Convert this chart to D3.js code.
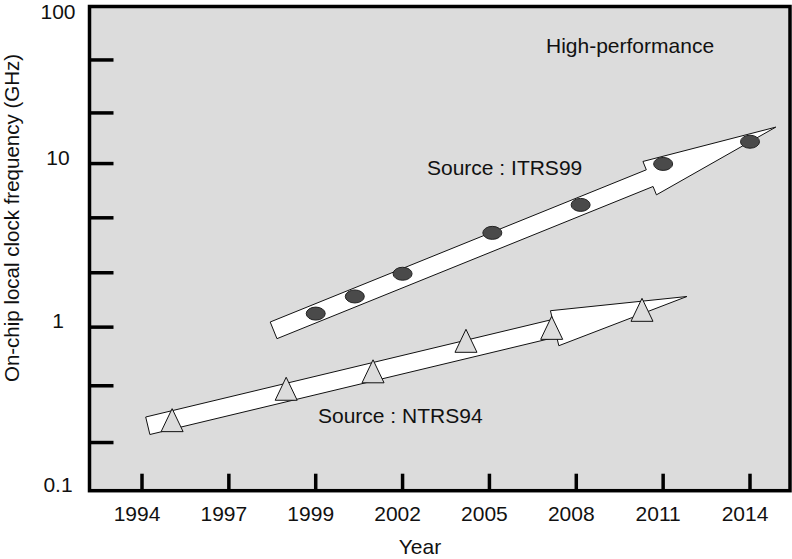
<!DOCTYPE html>
<html>
<head>
<meta charset="utf-8">
<script src="https://cdn.jsdelivr.net/npm/d3@7"></script>
<style>
  html, body { margin: 0; padding: 0; background: #fff; }
  svg text { font-family: "Liberation Sans", Arial, Helvetica, sans-serif; fill: #111; }
</style>
</head>
<body>
<div id="chart"></div>
<script>
// tick labels on the x axis (evenly spaced in the original, though the years are not)
const yearTicks = [1994, 1997, 1999, 2002, 2005, 2008, 2011, 2014];
const yMajorTicks = [0.1, 1, 10, 100];
const yMinorTicks = [0.197, 0.438, 2.15, 4.66, 20.4, 43];

// ITRS99 roadmap (filled ellipses)
const itrsYears = [1999, 2000.35, 2002, 2005.1, 2008.15, 2011, 2014];
const itrsGHz = [1.21, 1.54, 2.12, 3.77, 5.59, 9.95, 13.6];
const itrsArrow = [[1998.03, 0.956], [2014.89, 16.7]];

// NTRS94 roadmap (open triangles)
const ntrsYears = [1995.04, 1998.32, 2000.98, 2004.19, 2007.15, 2010.27];
const ntrsGHz = [0.27, 0.42, 0.537, 0.825, 0.99, 1.276];
const ntrsArrow = [[1994.2, 0.2495], [2011.82, 1.539]];

const W = 792, H = 559;
const plotL = 89.5, plotR = 790, plotT = 6.5, plotB = 490.7;
const bg = '#dcdcdc';

const svg = d3.select('#chart').append('svg').attr('width', W).attr('height', H);

// x: labels evenly spaced, years mapped piecewise onto them
const xPoint = d3.scalePoint().domain(yearTicks.map(String)).range([142, 750]);
const x = d3.scaleLinear().domain(yearTicks).range(yearTicks.map(t => xPoint(String(t))));
const y = d3.scaleLog().domain([0.1, 100]).range([plotB, 0]);

svg.append('rect').attr('x', plotL).attr('y', plotT)
  .attr('width', plotR - plotL).attr('height', plotB - plotT).attr('fill', bg);

// block arrow in pixel space from two data points
function arrowPath(a) {
  const x0 = x(a[0][0]), y0 = y(a[0][1]), x1 = x(a[1][0]), y1 = y(a[1][1]);
  const L = Math.hypot(x1 - x0, y1 - y0);
  const ux = (x1 - x0) / L, uy = (y1 - y0) / L;
  const nx = -uy, ny = ux;
  const sw = 9, hw = 18, hl = 136;
  const p = (s, o) => [x0 + ux * s + nx * o, y0 + uy * s + ny * o];
  const pts = [p(0, sw), p(L - hl, sw), p(L - hl, hw), p(L, 0), p(L - hl, -hw), p(L - hl, -sw), p(0, -sw)];
  return 'M' + pts.map(q => q.join(',')).join('L') + 'Z';
}

[itrsArrow, ntrsArrow].forEach(a => {
  svg.append('path').attr('d', arrowPath(a))
    .attr('fill', '#fff').attr('stroke', '#111').attr('stroke-width', 1);
});

svg.append('g').selectAll('ellipse').data(itrsYears).enter().append('ellipse')
  .attr('cx', d => x(d)).attr('cy', (d, i) => y(itrsGHz[i]))
  .attr('rx', 9.5).attr('ry', 6.5)
  .attr('fill', '#4a4a4a').attr('stroke', '#222').attr('stroke-width', 1);

svg.append('g').selectAll('path').data(ntrsYears).enter().append('path')
  .attr('transform', (d, i) => `translate(${x(d)},${y(ntrsGHz[i])})`)
  .attr('d', 'M0,-11.5L11,11.5L-11,11.5Z')
  .attr('fill', bg).attr('stroke', '#111').attr('stroke-width', 1);

// annotations
svg.append('text').attr('x', 546).attr('y', 53).attr('font-size', 21).text('High-performance');
svg.append('text').attr('x', 427).attr('y', 175).attr('font-size', 21).text('Source : ITRS99');
svg.append('text').attr('x', 318).attr('y', 423).attr('font-size', 21).text('Source : NTRS94');

// ticks (drawn inward)
svg.append('g').selectAll('line').data(yMajorTicks.slice(1, 3).concat(yMinorTicks)).enter().append('line')
  .attr('x1', plotL).attr('x2', plotL + 24).attr('y1', d => y(d)).attr('y2', d => y(d))
  .attr('stroke', '#000').attr('stroke-width', 3.5);

svg.append('g').selectAll('line').data(yearTicks).enter().append('line')
  .attr('x1', d => x(d)).attr('x2', d => x(d)).attr('y1', plotB).attr('y2', plotB - 17)
  .attr('stroke', '#000').attr('stroke-width', 3.5);

// frame
svg.append('rect').attr('x', plotL).attr('y', plotT)
  .attr('width', plotR - plotL).attr('height', plotB - plotT)
  .attr('fill', 'none').attr('stroke', '#000').attr('stroke-width', 3.5);

// tick labels
svg.append('g').selectAll('text').data(yMajorTicks).enter().append('text')
  .attr('x', 58).attr('y', d => Math.max(19, y(d) + 1))
  .attr('text-anchor', 'middle').attr('font-size', 21)
  .text(d => String(d));

svg.append('g').selectAll('text').data(yearTicks).enter().append('text')
  .attr('x', d => x(d) - 5).attr('y', 521)
  .attr('text-anchor', 'middle').attr('font-size', 21)
  .text(d => String(d));

// axis titles
svg.append('text').attr('x', 420).attr('y', 554).attr('text-anchor', 'middle')
  .attr('font-size', 21).text('Year');
svg.append('text').attr('transform', 'translate(19,218) rotate(-90)')
  .attr('text-anchor', 'middle').attr('font-size', 20.5)
  .text('On-chip local clock frequency (GHz)');
</script>
</body>
</html>
